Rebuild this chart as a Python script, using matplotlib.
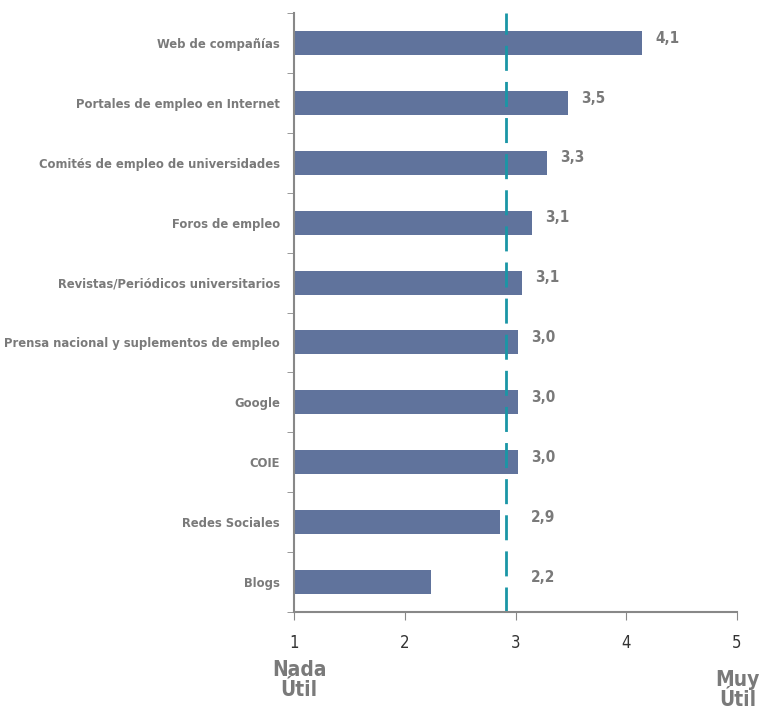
import matplotlib.pyplot as plt
import numpy as np

# datos
categorias = ["Web de compañías", "Portales de empleo en Internet",
              "Comités de empleo de universidades", "Foros de empleo",
              "Revistas/Periódicos universitarios",
              "Prensa nacional y suplementos de empleo", "Google", "COIE",
              "Redes Sociales", "Blogs"]
valores = [4.14, 3.47, 3.28, 3.15, 3.06, 3.02, 3.02, 3.02, 2.86, 2.24]
etiquetas = ["4,1", "3,5", "3,3", "3,1", "3,1", "3,0", "3,0", "3,0", "2,9", "2,2"]
media = 2.91
ticks_x = [1, 2, 3, 4, 5]

fuente = "DejaVu Sans"
gris = "#7a7a7a"

fig = plt.figure(figsize=(7.61, 7.10), dpi=100)
ax = fig.add_axes([0.3863, 0.138, 0.5822, 0.8437])

y = np.arange(len(categorias))
ax.barh(y, np.array(valores) - 1, left=1, height=0.4, color="#60739c")
ax.axvline(media, color="#1a96a6", lw=2, dashes=(9, 4))

# etiquetas de valor
for yi, v, t in zip(y, valores, etiquetas):
    ax.text(max(v, 3.02) + 0.12, yi - 0.08, t, ha="left", va="center",
            fontsize=11, fontweight="bold", color=gris, family=fuente,
            fontstretch="condensed")

ax.set_xlim(1, 5)
ax.set_ylim(len(categorias) - 0.5, -0.5)
ax.set_xticks(ticks_x)
ax.set_xticklabels([str(t) for t in ticks_x], family=fuente, fontsize=12,
                   color="#333333", fontstretch="condensed")
ax.set_yticks(y)
ax.set_yticklabels(categorias, family=fuente, fontsize=9.3,
                   fontweight="bold", color=gris, fontstretch="condensed")
ax.set_yticks(np.arange(len(categorias) + 1) - 0.5, minor=True)
ax.tick_params(axis="y", which="major", length=0, pad=10)
ax.tick_params(axis="y", which="minor", length=5, color="#888888")
ax.tick_params(axis="x", length=6, color="#888888", pad=10)

for lado in ["top", "right"]:
    ax.spines[lado].set_visible(False)
for lado in ["left", "bottom"]:
    ax.spines[lado].set_color("#888888")
    ax.spines[lado].set_linewidth(1.5)

# textos de la escala
estilo = dict(ha="center", fontsize=15, fontweight="bold", color=gris,
              family=fuente, fontstretch="condensed")
fig.text(0.393, 0.042, "Nada", va="bottom", **estilo)
fig.text(0.393, 0.042, "Útil", va="top", **estilo)
fig.text(0.969, 0.028, "Muy", va="bottom", **estilo)
fig.text(0.969, 0.028, "Útil", va="top", **estilo)

fig.savefig("out.png", dpi=100)
